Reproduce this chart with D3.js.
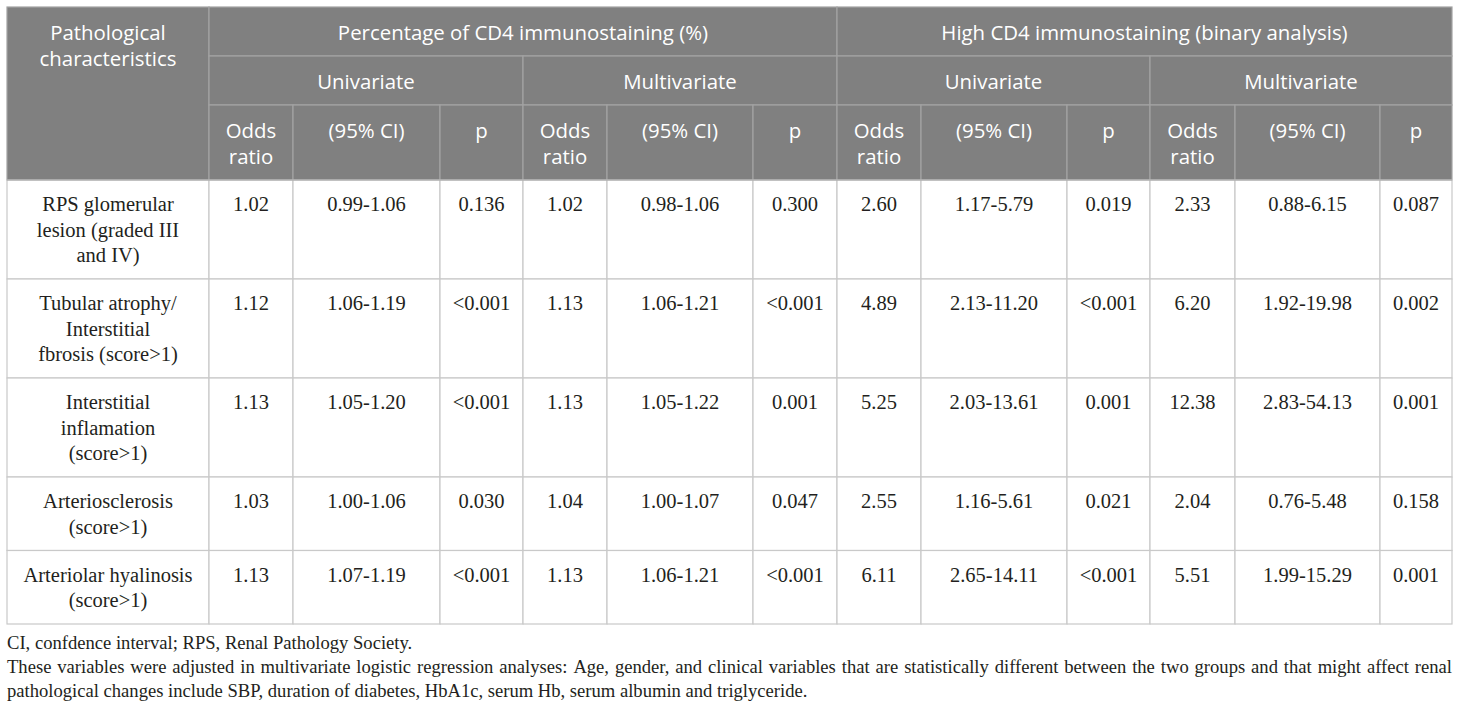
<!DOCTYPE html>
<html>
<head>
<meta charset="utf-8">
<script src="https://cdn.jsdelivr.net/npm/d3@7"></script>
<style>
  html, body { margin: 0; padding: 0; background: #fff; }
  svg { display: block; }
</style>
</head>
<body>
<div id="chart"></div>
<script>
// ---------- DATA ----------
const rowLabels = [
  ["RPS glomerular", "lesion (graded III", "and IV)"],
  ["Tubular atrophy/", "Interstitial", "fbrosis (score>1)"],
  ["Interstitial", "inflamation", "(score>1)"],
  ["Arteriosclerosis", "(score>1)"],
  ["Arteriolar hyalinosis", "(score>1)"]
];
const groupLabels = ["Percentage of CD4 immunostaining (%)", "High CD4 immunostaining (binary analysis)"];
const analysisLabels = ["Univariate", "Multivariate"];
const statLabels = [["Odds", "ratio"], ["(95% CI)"], ["p"]];
const firstHeader = ["Pathological", "characteristics"];

const pctUniOR   = [1.02, 1.12, 1.13, 1.03, 1.13];
const pctUniCI   = ["0.99-1.06", "1.06-1.19", "1.05-1.20", "1.00-1.06", "1.07-1.19"];
const pctUniP    = ["0.136", "<0.001", "<0.001", "0.030", "<0.001"];
const pctMultiOR = [1.02, 1.13, 1.13, 1.04, 1.13];
const pctMultiCI = ["0.98-1.06", "1.06-1.21", "1.05-1.22", "1.00-1.07", "1.06-1.21"];
const pctMultiP  = ["0.300", "<0.001", "0.001", "0.047", "<0.001"];
const binUniOR   = [2.60, 4.89, 5.25, 2.55, 6.11];
const binUniCI   = ["1.17-5.79", "2.13-11.20", "2.03-13.61", "1.16-5.61", "2.65-14.11"];
const binUniP    = ["0.019", "<0.001", "0.001", "0.021", "<0.001"];
const binMultiOR = [2.33, 6.20, 12.38, 2.04, 5.51];
const binMultiCI = ["0.88-6.15", "1.92-19.98", "2.83-54.13", "0.76-5.48", "1.99-15.29"];
const binMultiP  = ["0.087", "0.002", "0.001", "0.158", "0.001"];

const footnotes = [
  "CI, confdence interval; RPS, Renal Pathology Society.",
  "These variables were adjusted in multivariate logistic regression analyses: Age, gender, and clinical variables that are statistically different between the two groups and that might affect renal",
  "pathological changes include SBP, duration of diabetes, HbA1c, serum Hb, serum albumin and triglyceride."
];

// ---------- LAYOUT ----------
const W = 1460, H = 711;
const colEdges = [7, 209, 293, 440, 523, 607, 753, 837, 921, 1067, 1150, 1235, 1380, 1452];
const headEdges = [7, 56, 105, 180];
const bodyLine = 25.5, bodyPad = 22.5;
const headFont = "'Open Sans', 'Noto Sans', sans-serif";
const serifFont = "'Liberation Serif', 'DejaVu Serif', serif";
const headFill = "#808080", headStroke = "#a3a3a3", bodyStroke = "#c9c9c9";
const textColor = "#231f20";

const x = d3.scaleLinear().domain(d3.range(colEdges.length)).range(colEdges);
const hy = d3.scaleLinear().domain(d3.range(headEdges.length)).range(headEdges);

// body row edges from line counts
const bodyEdges = [headEdges[headEdges.length - 1]];
rowLabels.forEach(l => bodyEdges.push(bodyEdges[bodyEdges.length - 1] + l.length * bodyLine + bodyPad));
const by = d3.scaleLinear().domain(d3.range(bodyEdges.length)).range(bodyEdges);

const fmt = d3.format(".2f");
const seriesCols = [
  pctUniOR.map(fmt), pctUniCI, pctUniP,
  pctMultiOR.map(fmt), pctMultiCI, pctMultiP,
  binUniOR.map(fmt), binUniCI, binUniP,
  binMultiOR.map(fmt), binMultiCI, binMultiP
];

const svg = d3.select("#chart").append("svg").attr("width", W).attr("height", H);
svg.append("rect").attr("width", W).attr("height", H).attr("fill", "#fff");

// ---------- HEADER CELLS ----------
const headCells = [];
headCells.push({c0: 0, c1: 1, r0: 0, r1: 3, lines: firstHeader});
groupLabels.forEach((g, gi) => headCells.push({c0: 1 + gi * 6, c1: 7 + gi * 6, r0: 0, r1: 1, lines: [g]}));
groupLabels.forEach((g, gi) => analysisLabels.forEach((a, ai) =>
  headCells.push({c0: 1 + gi * 6 + ai * 3, c1: 4 + gi * 6 + ai * 3, r0: 1, r1: 2, lines: [a]})));
for (let k = 0; k < 4; k++) statLabels.forEach((s, si) =>
  headCells.push({c0: 1 + k * 3 + si, c1: 2 + k * 3 + si, r0: 2, r1: 3, lines: s}));

const hg = svg.append("g");
hg.selectAll("rect").data(headCells).join("rect")
  .attr("x", d => x(d.c0)).attr("y", d => hy(d.r0))
  .attr("width", d => x(d.c1) - x(d.c0)).attr("height", d => hy(d.r1) - hy(d.r0))
  .attr("fill", headFill).attr("stroke", headStroke).attr("stroke-width", 1.2);

hg.selectAll("text").data(headCells).join("text")
  .attr("x", d => (x(d.c0) + x(d.c1)) / 2)
  .attr("y", d => hy(d.r0) + 33)
  .attr("text-anchor", "middle")
  .attr("font-family", headFont).attr("font-size", 20.4).attr("fill", "#fff")
  .selectAll("tspan").data(d => d.lines.map((t, i) => ({t, i, x: (x(d.c0) + x(d.c1)) / 2})))
  .join("tspan")
  .attr("x", d => d.x).attr("dy", d => d.i === 0 ? 0 : 26)
  .text(d => d.t);

// ---------- BODY CELLS ----------
const bodyCells = [];
rowLabels.forEach((lab, r) => {
  bodyCells.push({c: 0, r, lines: lab});
  seriesCols.forEach((col, ci) => bodyCells.push({c: ci + 1, r, lines: [col[r]]}));
});

const bg = svg.append("g");
bg.selectAll("rect").data(bodyCells).join("rect")
  .attr("x", d => x(d.c)).attr("y", d => by(d.r))
  .attr("width", d => x(d.c + 1) - x(d.c)).attr("height", d => by(d.r + 1) - by(d.r))
  .attr("fill", "#fff").attr("stroke", bodyStroke).attr("stroke-width", 1.2);

bg.selectAll("text").data(bodyCells).join("text")
  .attr("y", d => by(d.r) + 31)
  .attr("text-anchor", "middle")
  .attr("font-family", serifFont).attr("font-size", 20.5).attr("fill", textColor)
  .selectAll("tspan").data(d => d.lines.map((t, i) => ({t, i, x: (x(d.c) + x(d.c + 1)) / 2})))
  .join("tspan")
  .attr("x", d => d.x).attr("dy", d => d.i === 0 ? 0 : bodyLine)
  .text(d => d.t);

// redraw header bottom edge over body top
svg.append("line")
  .attr("x1", x(0)).attr("x2", x(colEdges.length - 1))
  .attr("y1", hy(3)).attr("y2", hy(3))
  .attr("stroke", headStroke).attr("stroke-width", 1.2);

// ---------- FOOTNOTES ----------
const fy0 = bodyEdges[bodyEdges.length - 1] + 25, fLine = 24, fSize = 18.6;
const fg = svg.append("g").attr("font-family", serifFont).attr("font-size", fSize).attr("fill", textColor);
footnotes.forEach((line, i) => {
  const y = fy0 + i * fLine;
  if (i !== 1) {
    fg.append("text").attr("x", x(0)).attr("y", y).text(line);
  } else {
    // justified line
    const words = line.split(" ");
    const nodes = words.map(w => fg.append("text").attr("y", y).text(w));
    const widths = nodes.map(n => n.node().getComputedTextLength());
    const total = d3.sum(widths);
    const span = x(colEdges.length - 1) - x(0);
    const gap = (span - total) / (words.length - 1);
    let cx = x(0);
    nodes.forEach((n, k) => { n.attr("x", cx); cx += widths[k] + gap; });
  }
});
</script>
</body>
</html>
